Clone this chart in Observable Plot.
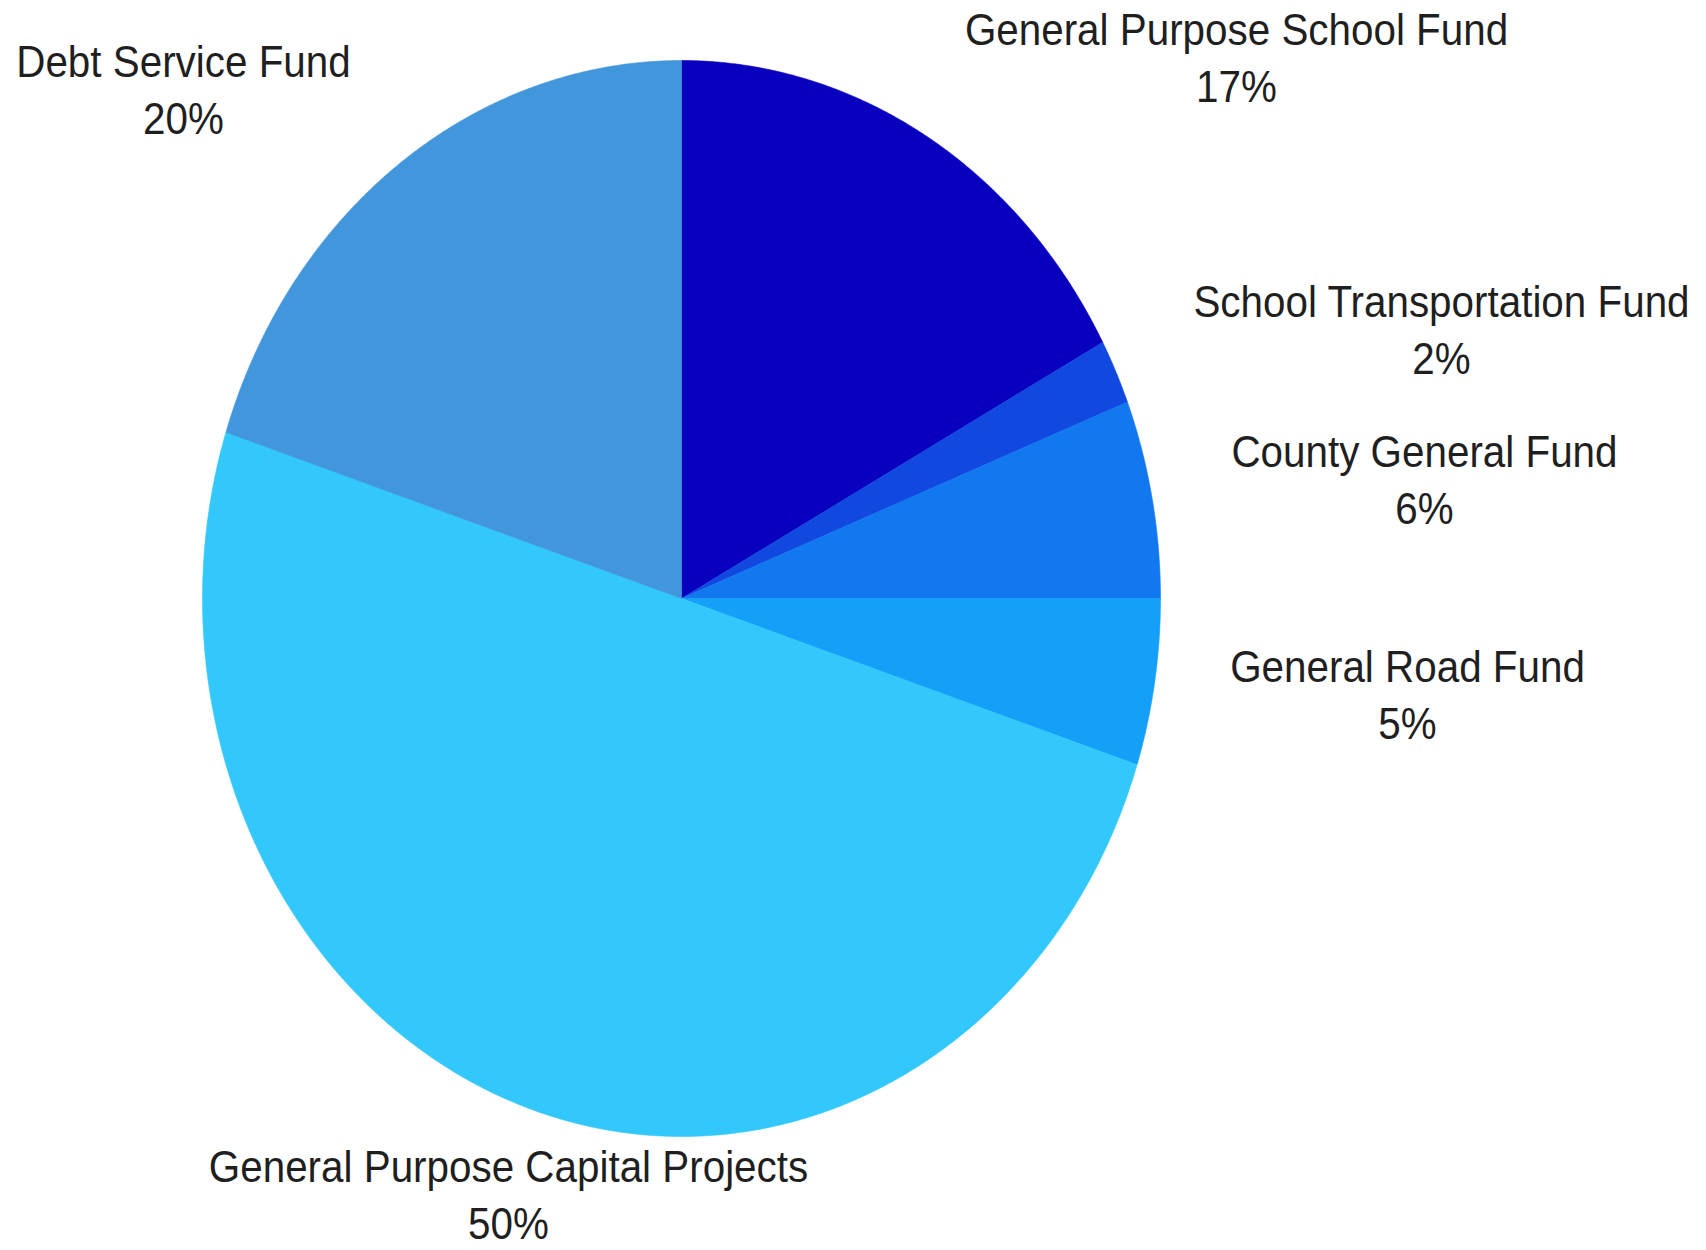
<!DOCTYPE html>
<html>
<head>
<meta charset="utf-8">
<script src="https://cdn.jsdelivr.net/npm/d3@7"></script>
<script src="https://cdn.jsdelivr.net/npm/@observablehq/plot@0.6"></script>
<style>
  html, body { margin: 0; padding: 0; background: #ffffff; }
  #chart { width: 1706px; height: 1250px; }
</style>
</head>
<body>
<div id="chart"></div>
<script>
// ---- Data ----
const funds = [
  "General Purpose School Fund",
  "School Transportation Fund",
  "County General Fund",
  "General Road Fund",
  "General Purpose Capital Projects",
  "Debt Service Fund"
];
const shares = [17.1, 1.95, 5.95, 5.0, 50.0, 20.0];
const colors = ["#0800BE", "#1148E0", "#1278F0", "#14A0F8", "#32C8FC", "#4196DC"];

// Label anchor positions, in the pie's unit coordinate space (radius = 1)
const labelX = [1.1587, 1.5866, 1.5511, 1.5157, -0.3612, -1.0397];
const labelY = [1.1031, 0.5976, 0.3187, -0.0809, -1.0103, 1.0437];

// ---- Build slice outlines from d3.pie angles ----
const arcs = d3.pie().sort(null).value(d => d)(shares);
const slices = [];
arcs.forEach((a, i) => {
  slices.push({fund: funds[i], x: 0, y: 0});
  const n = Math.max(4, Math.ceil((a.endAngle - a.startAngle) / 0.004));
  for (let k = 0; k <= n; k++) {
    const t = a.startAngle + (a.endAngle - a.startAngle) * k / n;
    slices.push({fund: funds[i], x: Math.sin(t), y: Math.cos(t)});
  }
  slices.push({fund: funds[i], x: 0, y: 0});
});

const labels = funds.map((f, i) => ({
  fund: f,
  text: `${f}\n${Math.round(shares[i])}%`,
  x: labelX[i],
  y: labelY[i]
}));

const chart = Plot.plot({
  width: 1706,
  height: 1250,
  margin: 0,
  style: {background: "#ffffff", fontFamily: "'Liberation Sans', Arial, sans-serif"},
  x: {domain: [-1, 1], range: [202, 1160], axis: null},
  y: {domain: [-1, 1], range: [1136, 60], axis: null},
  color: {domain: funds, range: colors},
  marks: [
    Plot.line(slices, {x: "x", y: "y", z: "fund", fill: "fund", stroke: "fund", strokeWidth: 0.6, curve: "linear"}),
    Plot.text(labels, {
      x: "x", y: "y", text: "text",
      textAnchor: "middle", lineAnchor: "top", lineHeight: 1.28,
      fontSize: 40.4, fill: "#1f1f1f",
      fontFamily: "'Liberation Sans', Arial, sans-serif"
    })
  ]
});

document.getElementById("chart").appendChild(chart);

// Slight vertical stretch of the label glyphs, as in the reference
chart.querySelectorAll("g[aria-label='text'] text").forEach(t => {
  const tr = t.getAttribute("transform") || "";
  t.setAttribute("transform", tr + " scale(1,1.1)");
});
</script>
</body>
</html>
